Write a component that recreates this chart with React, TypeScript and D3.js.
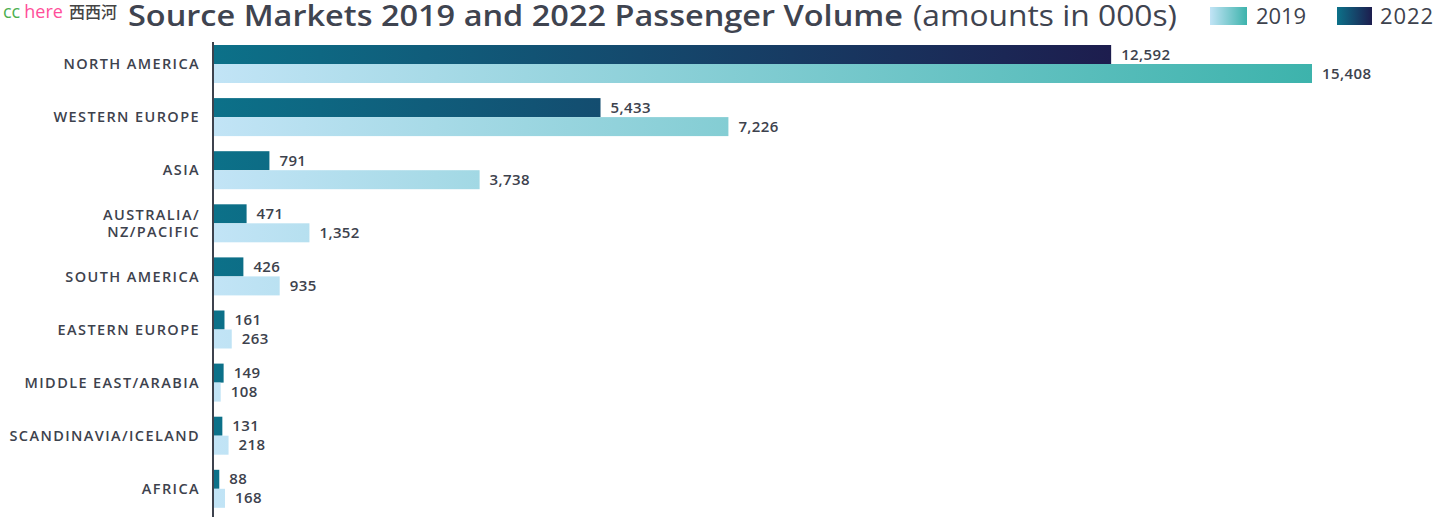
import React from "react";
import * as d3 from "d3";

const categories = [
  "NORTH AMERICA",
  "WESTERN EUROPE",
  "ASIA",
  "AUSTRALIA/\nNZ/PACIFIC",
  "SOUTH AMERICA",
  "EASTERN EUROPE",
  "MIDDLE EAST/ARABIA",
  "SCANDINAVIA/ICELAND",
  "AFRICA",
];
const values2022 = [12592, 5433, 791, 471, 426, 161, 149, 131, 88];
const values2019 = [15408, 7226, 3738, 1352, 935, 263, 108, 218, 168];
const seriesNames = ["2019", "2022"];

const W = 1440;
const H = 517;
const axisX = 213;
const FONT = "'Open Sans', 'DejaVu Sans', sans-serif";
const TXT = "#3d424d";

export default function App() {
  const x = d3.scaleLinear().domain([0, 15408]).range([axisX, 1312]);
  const step = 53.1;
  const pad = 15.1 / step;
  const y = d3
    .scaleBand()
    .domain(categories)
    .range([45, 45 + step * (categories.length - pad)])
    .paddingInner(pad)
    .paddingOuter(0);
  const fmt = d3.format(",");
  const bh = y.bandwidth() / 2;

  return (
    <svg width={W} height={H} style={{ position: "absolute", left: 0, top: 0 }}>
      <defs>
        <linearGradient id="g2022" gradientUnits="userSpaceOnUse" x1={axisX} x2={x(12592)} y1={0} y2={0}>
          <stop offset="0" stopColor="#0c7189" />
          <stop offset="1" stopColor="#1d1d4e" />
        </linearGradient>
        <linearGradient id="g2019" gradientUnits="userSpaceOnUse" x1={axisX} x2={x(15408)} y1={0} y2={0}>
          <stop offset="0" stopColor="#c2e4f6" />
          <stop offset="1" stopColor="#3db3ac" />
        </linearGradient>
        <linearGradient id="l2019" x1="0" x2="1" y1="0" y2="0">
          <stop offset="0" stopColor="#c2e4f6" />
          <stop offset="1" stopColor="#3db3ac" />
        </linearGradient>
        <linearGradient id="l2022" x1="0" x2="1" y1="0" y2="0">
          <stop offset="0" stopColor="#0c7189" />
          <stop offset="1" stopColor="#1d1d4e" />
        </linearGradient>
      </defs>

      {/* watermark */}
      <text x={3} y={18} fontFamily={FONT} fontSize={18}>
        <tspan fill="#4caf50">cc</tspan>
        <tspan fill="#ff4f9a" dx={4}>here</tspan>
        <tspan fill="#444" dx={6} fontFamily="'Noto Sans CJK SC'" fontSize={16} fontWeight={500}>西西河</tspan>
      </text>

      {/* title */}
      <text
        x={128}
        y={26}
        fontFamily={FONT}
        fontSize={29}
        fontWeight={600}
        fill="#3f4450"
        textLength={775}
        lengthAdjust="spacingAndGlyphs"
      >
        Source Markets 2019 and 2022 Passenger Volume
      </text>
      <text
        x={913}
        y={26}
        fontFamily={FONT}
        fontSize={29}
        fontWeight={400}
        fill="#3f4450"
        textLength={264}
        lengthAdjust="spacingAndGlyphs"
      >
        (amounts in 000s)
      </text>

      {/* legend */}
      <rect x={1210} y={7} width={37} height={18} fill="url(#l2019)" />
      <text x={1256} y={24} fontFamily={FONT} fontSize={22} fill={TXT} textLength={50}>{seriesNames[0]}</text>
      <rect x={1337} y={7} width={35} height={18} fill="url(#l2022)" />
      <text x={1380} y={24} fontFamily={FONT} fontSize={22} fill={TXT} textLength={53}>{seriesNames[1]}</text>

      {categories.map((c, i) => {
        const y0 = y(c)!;
        const lines = c.split("\n");
        const mid = y0 + bh;
        return (
          <g key={c}>
            <rect x={axisX} y={y0} width={x(values2022[i]) - axisX} height={bh} fill="url(#g2022)" />
            <rect x={axisX} y={y0 + bh} width={x(values2019[i]) - axisX} height={bh} fill="url(#g2019)" />
            <text
              x={x(values2022[i]) + 10}
              y={y0 + bh / 2}
              dy="0.34em"
              fontFamily={FONT}
              fontSize={15}
              fontWeight={600}
              letterSpacing={0.4}
              fill={TXT}
            >
              {fmt(values2022[i])}
            </text>
            <text
              x={x(values2019[i]) + 10}
              y={y0 + bh * 1.5}
              dy="0.34em"
              fontFamily={FONT}
              fontSize={15}
              fontWeight={600}
              letterSpacing={0.4}
              fill={TXT}
            >
              {fmt(values2019[i])}
            </text>
            {lines.map((l, k) => (
              <text
                key={k}
                x={200}
                y={mid + (k - (lines.length - 1) / 2) * 17}
                dy="0.36em"
                textAnchor="end"
                fontFamily={FONT}
                fontSize={14.5}
                fontWeight={600}
                letterSpacing={1.4}
                fill={TXT}
              >
                {l}
              </text>
            ))}
          </g>
        );
      })}

      <line x1={axisX} x2={axisX} y1={42} y2={H} stroke="#3d424d" strokeWidth={2} />
    </svg>
  );
}
